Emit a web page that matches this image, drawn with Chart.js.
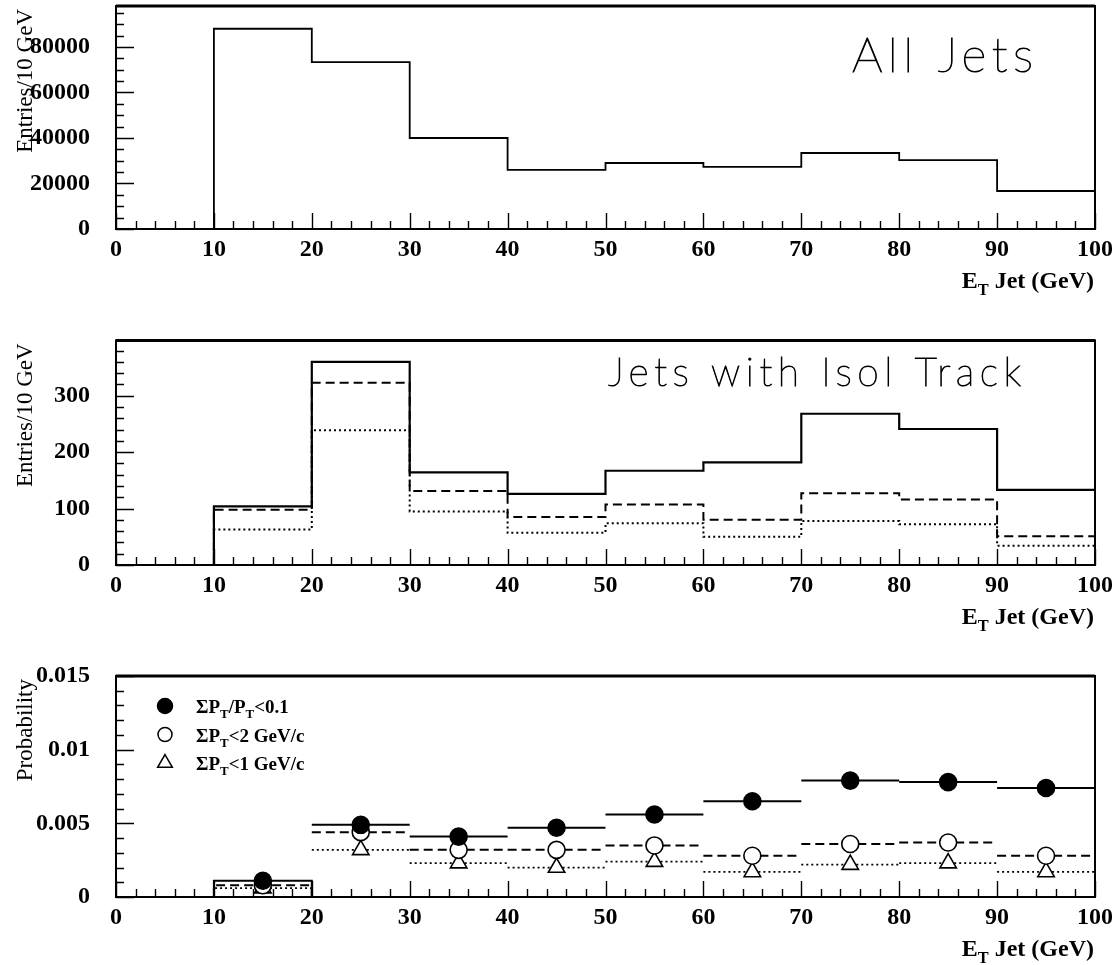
<!DOCTYPE html>
<html>
<head>
<meta charset="utf-8">
<script src="https://cdn.jsdelivr.net/npm/chart.js@4.4.1/dist/chart.umd.min.js"></script>
<style>
  html, body { margin: 0; padding: 0; background: #fff; overflow: hidden; }
  #wrap { position: relative; width: 1119px; height: 965px; overflow: hidden; }
  canvas { position: absolute; left: 0; }
</style>
</head>
<body>
<div id="wrap">
  <canvas id="allJets" width="1119" height="340" style="top:-40px"></canvas>
  <canvas id="isolJets" width="1119" height="340" style="top:300px"></canvas>
  <canvas id="probJets" width="1119" height="345" style="top:620px"></canvas>
</div>
<script>
// bin edges (GeV) and bin centres
var binEdges = [10, 20, 30, 40, 50, 60, 70, 80, 90, 100];
var binCenters = [15, 25, 35, 45, 55, 65, 75, 85, 95];

// entries / 10 GeV, all jets
var allJetsCounts = [88000, 73300, 40000, 26000, 29000, 27300, 33400, 30300, 16700];

// entries / 10 GeV, jets with an isolated track
var isolRel01 = [104, 360, 164, 126, 167, 182, 268, 241, 133];
var isolPt2 = [98, 323, 131, 85, 107, 80, 127, 116, 51];
var isolPt1 = [63, 239, 95, 57, 74, 50, 78, 72, 34];

// probability per bin
var probRel01 = [0.0011, 0.0049, 0.0041, 0.0047, 0.0056, 0.0065, 0.0079, 0.0078, 0.0074];
var probPt2 = [0.0008, 0.0044, 0.0032, 0.0032, 0.0035, 0.0028, 0.0036, 0.0037, 0.0028];
var probPt1 = [0.0006, 0.0032, 0.0023, 0.0020, 0.0024, 0.0017, 0.0022, 0.0023, 0.0017];

// axis ticks
var xTicks = [0, 10, 20, 30, 40, 50, 60, 70, 80, 90, 100];
var yTicksAll = [0, 20000, 40000, 60000, 80000];
var yTicksIsol = [0, 100, 200, 300];
var yTicksProb = [0, 0.005, 0.01, 0.015];

var SERIF = '"Liberation Serif", "DejaVu Serif", serif';
var THIN = '"DejaVu Sans ExtraLight", Lato, "DejaVu Sans", sans-serif';

// step outline starting from zero at the first edge
function histPoints(values) {
    var pts = [{x: binEdges[0], y: 0}];
    values.forEach(function (v, i) { pts.push({x: binEdges[i], y: v}); });
    pts.push({x: binEdges[binEdges.length - 1], y: values[values.length - 1]});
    return pts;
}

// one horizontal segment per bin, first bin closed down to zero
function segPoints(values) {
    var pts = [];
    values.forEach(function (v, i) {
        var lo = binEdges[i], hi = binEdges[i + 1];
        if (i === 0) pts.push({x: lo, y: 0});
        pts.push({x: lo, y: v}, {x: hi, y: v});
        if (i === 0) pts.push({x: hi, y: 0});
        pts.push({x: hi, y: null});
    });
    return pts;
}

function markerPoints(values) {
    return values.map(function (v, i) { return {x: binCenters[i], y: v}; });
}

function lineSet(points, dash, width, stepped, order) {
    return {
        data: points, borderColor: '#000', borderWidth: width, borderDash: dash,
        pointRadius: 0, stepped: stepped, fill: false, spanGaps: false,
        tension: 0, order: order, borderCapStyle: 'butt'
    };
}

function markerSet(points, style, radius, filled, order) {
    return {
        data: points, showLine: false, pointStyle: style, pointRadius: radius,
        pointBackgroundColor: filled ? '#000' : '#fff', pointBorderColor: '#000',
        pointBorderWidth: 1.6, order: order
    };
}

// text with subscript pieces: [[text, isSub], ...]
function richWidth(ctx, parts, size) {
    var w = 0;
    parts.forEach(function (p) {
        ctx.font = 'bold ' + (p[1] ? size * 0.68 : size) + 'px ' + SERIF;
        w += ctx.measureText(p[0]).width;
    });
    return w;
}

function drawRich(ctx, parts, x, y, size) {
    parts.forEach(function (p) {
        ctx.font = 'bold ' + (p[1] ? size * 0.68 : size) + 'px ' + SERIF;
        ctx.fillText(p[0], x, p[1] ? y + size * 0.28 : y);
        x += ctx.measureText(p[0]).width;
    });
}

var decoPlugin = {
    id: 'deco',
    afterDraw: function (chart, args, opts) {
        var ctx = chart.ctx, area = chart.chartArea;
        var xs = chart.scales.x, ys = chart.scales.y;
        ctx.save();
        ctx.strokeStyle = '#000';
        ctx.fillStyle = '#000';

        // inward tick marks
        ctx.lineWidth = 1.4;
        ctx.beginPath();
        for (var v = 0; v <= 100; v += 2) {
            var px = Math.round(xs.getPixelForValue(v)) + 0.5;
            var len = v % 10 === 0 ? 16 : 8;
            ctx.moveTo(px, area.bottom);
            ctx.lineTo(px, area.bottom - len);
        }
        var n = Math.floor(ys.max / opts.yMinor + 1e-6);
        var every = Math.round(opts.yMajor / opts.yMinor);
        for (var i = 0; i <= n; i++) {
            var py = Math.round(ys.getPixelForValue(i * opts.yMinor)) + 0.5;
            var l = i % every === 0 ? 18 : 8;
            ctx.moveTo(area.left, py);
            ctx.lineTo(area.left + l, py);
        }
        ctx.stroke();

        // frame
        ctx.lineWidth = 2;
        ctx.strokeRect(area.left, area.top, area.right - area.left, area.bottom - area.top);
        ctx.lineWidth = 3;
        ctx.beginPath();
        ctx.moveTo(area.left, area.top);
        ctx.lineTo(area.right, area.top);
        ctx.stroke();

        // y title, rotated, ending at the top of the axis
        ctx.save();
        ctx.translate(32, area.top + 3);
        ctx.rotate(-Math.PI / 2);
        ctx.font = '23px ' + SERIF;
        ctx.textAlign = 'right';
        ctx.textBaseline = 'alphabetic';
        ctx.fillText(opts.yTitle, 0, 0);
        ctx.restore();

        // x title
        ctx.textAlign = 'left';
        ctx.textBaseline = 'alphabetic';
        var xt = [['E', false], ['T', true], [' Jet (GeV)', false]];
        var w = richWidth(ctx, xt, 24);
        drawRich(ctx, xt, area.right - 1 - w, area.bottom + 59, 24);

        // panel label in a thin sans, stretched to its width
        if (opts.label) {
            ctx.font = '200 ' + opts.label.size + 'px ' + THIN;
            var raw = ctx.measureText(opts.label.text).width;
            var gap = (opts.label.width - raw) / (opts.label.text.length - 1);
            ctx.letterSpacing = Math.max(0, gap).toFixed(2) + 'px';
            ctx.fillStyle = '#000';
            ctx.lineWidth = 1;
            var lx = area.left + opts.label.dx, ly = area.top + opts.label.dy;
            ctx.fillText(opts.label.text, lx, ly);
            ctx.strokeText(opts.label.text, lx, ly);
            ctx.letterSpacing = '0px';
        }

        // legend
        if (opts.legend) {
            opts.legend.forEach(function (item, k) {
                var mx = area.left + 49, my = area.top + 30 + k * 28.5;
                ctx.fillStyle = item.filled ? '#000' : '#fff';
                ctx.strokeStyle = '#000';
                ctx.lineWidth = 1.5;
                Chart.helpers.drawPoint(ctx, {pointStyle: item.style, radius: item.radius, borderWidth: 1.5, rotation: 0}, mx, my);
                ctx.fillStyle = '#000';
                drawRich(ctx, item.parts, area.left + 80, my + 7, 19);
            });
        }
        ctx.restore();
    }
};

function tickText(v) {
    return String(+v.toFixed(4));
}

function makePanel(id, cfg) {
    var tickFont = {family: SERIF, size: 24, weight: 'bold'};
    return new Chart(document.getElementById(id), {
        type: 'line',
        data: {datasets: cfg.datasets},
        options: {
            responsive: false,
            animation: false,
            devicePixelRatio: 1,
            layout: {padding: {top: cfg.top, right: 23, left: 0, bottom: 0}},
            plugins: {legend: {display: false}, tooltip: {enabled: false}, deco: cfg.deco},
            scales: {
                x: {
                    type: 'linear', min: 0, max: 100,
                    grid: {display: false, drawTicks: false}, border: {display: false},
                    afterBuildTicks: function (s) { s.ticks = xTicks.map(function (v) { return {value: v}; }); },
                    afterFit: function (s) { s.height = cfg.xHeight; },
                    ticks: {font: tickFont, color: '#000', padding: 6, maxRotation: 0, autoSkip: false, callback: tickText}
                },
                y: {
                    type: 'linear', min: 0, max: cfg.yMax,
                    grid: {display: false, drawTicks: false}, border: {display: false},
                    afterBuildTicks: function (s) { s.ticks = cfg.yTicks.map(function (v) { return {value: v}; }); },
                    afterFit: function (s) { s.width = 116; },
                    ticks: {font: tickFont, color: '#000', padding: 26, autoSkip: false, callback: tickText}
                }
            }
        },
        plugins: [decoPlugin]
    });
}

makePanel('allJets', {
    top: 46, xHeight: 71, yMax: 98000, yTicks: yTicksAll,
    datasets: [lineSet(histPoints(allJetsCounts), [], 1.8, true, 0)],
    deco: {yMajor: 20000, yMinor: 5000, yTitle: 'Entries/10 GeV',
           label: {text: 'All Jets', size: 48, width: 181, dx: 736, dy: 66}}
});

makePanel('isolJets', {
    top: 39, xHeight: 75, yMax: 398, yTicks: yTicksIsol,
    datasets: [
        lineSet(histPoints(isolRel01), [], 2.2, true, 0),
        lineSet(histPoints(isolPt2), [9, 5], 2, true, 1),
        lineSet(histPoints(isolPt1), [2, 3], 2, true, 2)
    ],
    deco: {yMajor: 100, yMinor: 20, yTitle: 'Entries/10 GeV',
           label: {text: 'Jets with Isol Track', size: 39, width: 413, dx: 492, dy: 46}}
});

makePanel('probJets', {
    top: 56, xHeight: 68, yMax: 0.015, yTicks: yTicksProb,
    datasets: [
        markerSet(markerPoints(probRel01), 'circle', 8.5, true, 0),
        markerSet(markerPoints(probPt2), 'circle', 8.5, false, 1),
        markerSet(markerPoints(probPt1), 'triangle', 9.5, false, 2),
        lineSet(segPoints(probRel01), [], 2, false, 3),
        lineSet(segPoints(probPt2), [9, 5], 2, false, 4),
        lineSet(segPoints(probPt1), [2, 3], 1.8, false, 5)
    ],
    deco: {yMajor: 0.005, yMinor: 0.001, yTitle: 'Probability',
           legend: [
               {style: 'circle', radius: 7.5, filled: true,
                parts: [['\u03A3P', false], ['T', true], ['/P', false], ['T', true], ['<0.1', false]]},
               {style: 'circle', radius: 7, filled: false,
                parts: [['\u03A3P', false], ['T', true], ['<2 GeV/c', false]]},
               {style: 'triangle', radius: 8.5, filled: false,
                parts: [['\u03A3P', false], ['T', true], ['<1 GeV/c', false]]}
           ]}
});
</script>
</body>
</html>
